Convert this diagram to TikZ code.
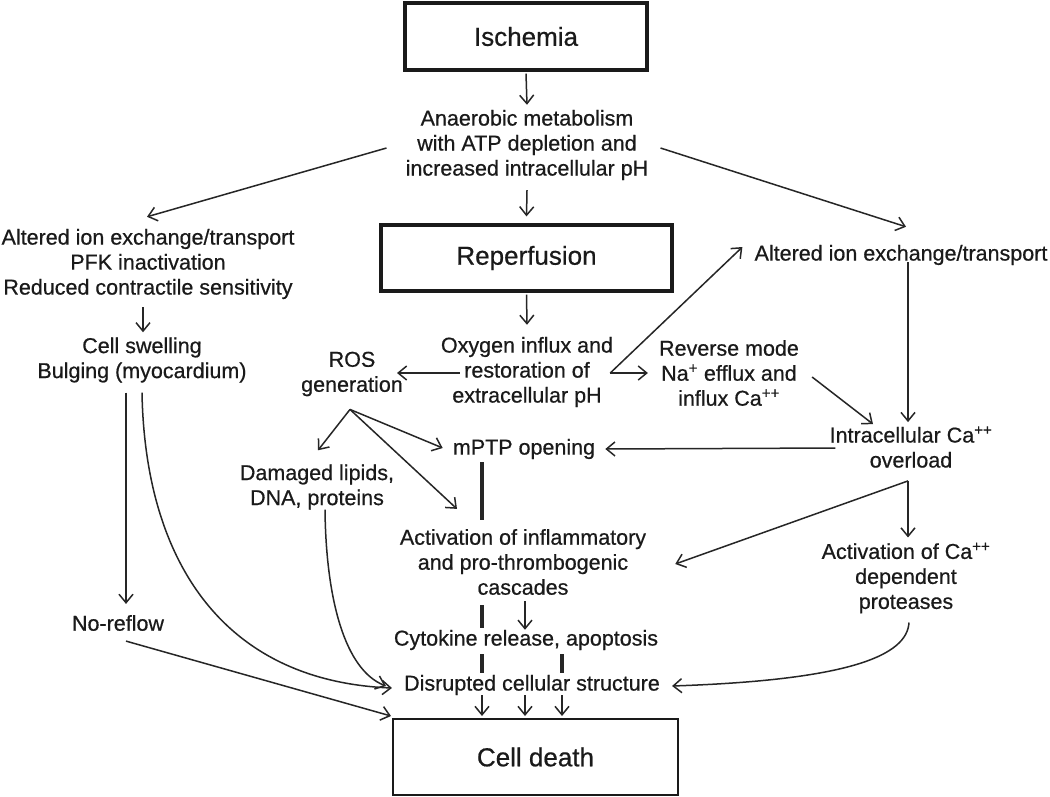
\documentclass[tikz,border=0pt]{standalone}
\usepackage{fontspec}
\setmainfont{Liberation Sans}[FakeBold=0.6]
\usetikzlibrary{arrows.meta}
\definecolor{ink}{HTML}{1A1A1A}
\definecolor{lin}{HTML}{262626}
\begin{document}
\begin{tikzpicture}[x=1pt,y=-1pt,
  txt/.style={align=center, inner sep=0pt, font=\fontsize{21.5}{25}\selectfont, text=ink},
  tbox/.style={draw=ink, line width=3.2pt, font=\fontsize{26}{30}\selectfont, text=ink, inner sep=0pt},
  arr/.style={draw=lin, line width=1.5pt, -{Straight Barb[length=8.5pt,width=14pt]}},
  bar/.style={draw=lin, line width=3.6pt}]
\useasboundingbox (0,0) rectangle (1050,796);
\fill[white] (0,0) rectangle (1050,796);

% nodes
\node[tbox, minimum width=242pt, minimum height=67pt] (isch) at (526,36.5) {Ischemia};
\node[tbox, minimum width=291pt, minimum height=66pt] (rep) at (526.5,258) {Reperfusion};
\node[tbox, line width=2pt, minimum width=285pt, minimum height=76pt] (cd) at (535.5,757) {Cell death};

\node[txt] (ana) at (527,145) {Anaerobic metabolism\\with ATP depletion and\\increased intracellular pH};
\node[txt] (lalt) at (148,264) {Altered ion exchange/transport\\PFK inactivation\\Reduced contractile sensitivity};
\node[txt] (cs) at (142,360) {Cell swelling\\Bulging (myocardium)};
\node[txt] (nr) at (118,623) {No-reflow};
\node[txt] (ralt) at (901,255) {Altered ion exchange/transport};
\node[txt] (oxy) at (527,372) {Oxygen influx and\\restoration of\\extracellular pH};
\node[txt] (ros) at (352,374) {ROS\\generation};
\node[txt] (rev) at (729,373) {Reverse mode\\Na\textsuperscript{+} efflux and\\influx Ca\textsuperscript{++}};
\node[txt] (ica) at (911,447) {Intracellular Ca\textsuperscript{++}\\overload};
\node[txt] (mptp) at (524,449) {mPTP opening};
\node[txt] (dam) at (317,487) {Damaged lipids,\\DNA, proteins};
\node[txt] (act) at (523,562) {Activation of inflammatory\\and pro-thrombogenic\\cascades};
\node[txt] (prot) at (906,578) {Activation of Ca\textsuperscript{++}\\dependent\\proteases};
\node[txt] (cyt) at (526,640) {Cytokine release, apoptosis};
\node[txt] (dis) at (532,685) {Disrupted cellular structure};

% junctions
\coordinate (ov) at ([xshift=-3pt,yshift=-1pt]oxy.east);
\coordinate (rv) at ([xshift=-2pt,yshift=-13pt]ros.south);
\coordinate (iv) at ([xshift=-3pt,yshift=-13pt]ica.south);

% connectors
\draw[arr] ([yshift=-2pt]isch.south) -- ([yshift=5pt]ana.north);
\draw[arr] ([xshift=-19pt,yshift=-3pt]ana.west) -- ([xshift=-1pt,yshift=12pt]lalt.north);
\draw[arr] ([xshift=12pt,yshift=-3pt]ana.east) -- ([xshift=5pt,yshift=18pt]ralt.north);
\draw[arr] ([yshift=-10pt]ana.south) -- ([yshift=7pt]rep.north);
\draw[arr] ([xshift=-5pt,yshift=-8pt]lalt.south) -- ([xshift=1pt,yshift=5pt]cs.north);
\draw[arr] ([yshift=-2pt]rep.south) -- ([yshift=12pt]oxy.north);
\draw[arr] ([xshift=19pt,yshift=-1pt]oxy.west) -- ([xshift=-6pt,yshift=1pt]ros.east);
\draw[arr] (ov) -- ([xshift=-12pt,yshift=8pt]ralt.west);
\draw[arr] (ov) -- ([xshift=-11pt]rev.west);
\draw[arr] ([xshift=13pt,yshift=-4pt]rev.east) -- ([xshift=-38pt,yshift=2pt]ica.north);
\draw[arr] ([xshift=7pt,yshift=3pt]ralt.south) -- ([xshift=-3pt,yshift=4pt]ica.north);
\draw[arr] ([xshift=6pt,yshift=-1pt]ica.west) -- ([xshift=10pt]mptp.east);
\draw[arr] (rv) -- ([xshift=1pt,yshift=14pt]dam.north);
\draw[arr] (rv) -- ([xshift=-10pt,yshift=1pt]mptp.west);
\draw[arr] (rv) -- ([xshift=-66pt,yshift=20pt]act.north);
\draw[bar] ([xshift=-42pt,yshift=-3pt]mptp.south) -- ([xshift=-41pt,yshift=9pt]act.north);
\draw[arr] (iv) -- ([xshift=29pt,yshift=-2pt]act.east);
\draw[arr] (iv) -- ([xshift=2pt,yshift=5pt]prot.north);
\draw[arr] ([xshift=2pt,yshift=-6pt]act.south) -- ([xshift=-1pt]cyt.north);
\draw[bar] ([xshift=-41pt,yshift=-10pt]act.south) -- ([xshift=-44pt,yshift=2pt]cyt.north);
\draw[bar] ([xshift=-44pt,yshift=-4pt]cyt.south) -- ([xshift=-50pt,yshift=2pt]dis.north);
\draw[bar] ([xshift=36pt,yshift=-4pt]cyt.south) -- ([xshift=30pt,yshift=2pt]dis.north);
\draw[arr] ([xshift=-50pt]dis.south) -- ([xshift=-53.5pt,yshift=2pt]cd.north);
\draw[arr] ([xshift=-7pt]dis.south) -- ([xshift=-10.5pt,yshift=2pt]cd.north);
\draw[arr] ([xshift=30pt]dis.south) -- ([xshift=26.5pt,yshift=2pt]cd.north);
\draw[arr] ([xshift=-16pt,yshift=-10pt]cs.south) -- ([xshift=8pt,yshift=11pt]nr.north);
\draw[arr] ([yshift=-10pt]cs.south) .. controls +(3,167) and +(-170,-7) .. ([xshift=-12pt,yshift=-3pt]dis.west);
\draw[arr] ([xshift=8pt]dam.south) .. controls +(1,90) and +(-41,-16) .. ([xshift=-18pt,yshift=-1pt]dis.west);
\draw[arr] ([xshift=8pt,yshift=-10pt]nr.south) -- ([xshift=-1pt,yshift=2pt]cd.north west);
\draw[arr] ([xshift=3pt,yshift=-9pt]prot.south) .. controls +(-2,33) and +(178,-6) .. ([xshift=12pt,yshift=-1pt]dis.east);
\end{tikzpicture}
\end{document}
